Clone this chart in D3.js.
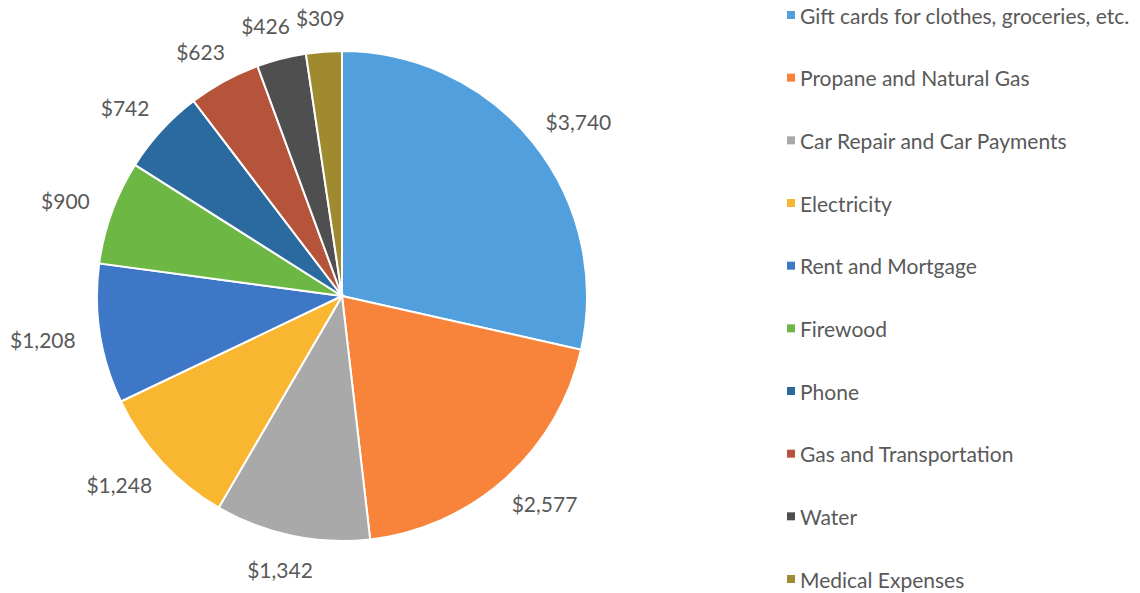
<!DOCTYPE html>
<html>
<head>
<meta charset="utf-8">
<script src="https://cdn.jsdelivr.net/npm/d3@7"></script>
<style>
  body { margin: 0; background: #fff; }
  text { font-family: Lato, "Open Sans", sans-serif; fill: #595959; }
</style>
</head>
<body>
<script>
// Data
var categories = ["Gift cards for clothes, groceries, etc.", "Propane and Natural Gas",
    "Car Repair and Car Payments", "Electricity", "Rent and Mortgage", "Firewood",
    "Phone", "Gas and Transportation", "Water", "Medical Expenses"];
var amounts = [3740, 2577, 1342, 1248, 1208, 900, 742, 623, 426, 309];
var colors = ["#519fdc", "#f7843a", "#a9a9a9", "#f9b630", "#3f77c7", "#6db845",
    "#2a6a9f", "#b5543a", "#4f4f4f", "#a08a30"];

var width = 1140, height = 593;
var cx = 342, cy = 296, radius = 245;

var svg = d3.select("body")
    .append("svg")
    .attr("width", width)
    .attr("height", height);

var pie = d3.pie().sort(null).value(function(d) { return d; });
var arc = d3.arc().innerRadius(0).outerRadius(radius);
var arcs = pie(amounts);

var g = svg.append("g")
    .attr("transform", "translate(" + cx + "," + cy + ")");

g.selectAll("path")
    .data(arcs)
    .enter().append("path")
    .attr("d", arc)
    .attr("fill", function(d, i) { return colors[i]; })
    .attr("stroke", "#fff")
    .attr("stroke-width", 2);

// labels outside end
var fmt = d3.format("$,");
var labelR = radius + 25;
var labels = g.selectAll("text.lbl")
    .data(arcs)
    .enter().append("text")
    .attr("class", "lbl")
    .style("font-size", "21px")
    .attr("text-anchor", "middle")
    .attr("dominant-baseline", "central")
    .text(function(d) { return fmt(d.data); })
    .attr("x", function(d) {
        var a = (d.startAngle + d.endAngle) / 2;
        var w = this.getComputedTextLength();
        return Math.sin(a) * labelR + Math.sin(a) * w / 2;
    })
    .attr("y", function(d) {
        var a = (d.startAngle + d.endAngle) / 2;
        return -Math.cos(a) * labelR - Math.cos(a) * 9;
    });

// push crowded labels near the top apart (walk backwards from the last slice)
var nodes = labels.nodes();
for (var i = nodes.length - 2; i >= 0; i--) {
    var a = nodes[i].getBBox(), b = nodes[i + 1].getBBox();
    var overlapX = (a.x + a.width + 6) - b.x;
    var overlapY = Math.min(a.y + a.height, b.y + b.height) - Math.max(a.y, b.y);
    if (overlapX > 0 && overlapY > 0 && a.x < b.x) {
        d3.select(nodes[i]).attr("x", +nodes[i].getAttribute("x") - overlapX);
    }
}

// legend
var ly = d3.scalePoint()
    .domain(categories)
    .range([15, 579]);

var legend = svg.append("g");
var item = legend.selectAll("g")
    .data(categories)
    .enter().append("g")
    .attr("transform", function(d) { return "translate(787," + ly(d) + ")"; });

item.append("rect")
    .attr("x", 0).attr("y", -4)
    .attr("width", 8).attr("height", 8)
    .attr("fill", function(d, i) { return colors[i]; });

item.append("text")
    .attr("x", 13)
    .attr("dominant-baseline", "central")
    .style("font-size", "21px")
    .text(function(d) { return d; });
</script>
</body>
</html>
